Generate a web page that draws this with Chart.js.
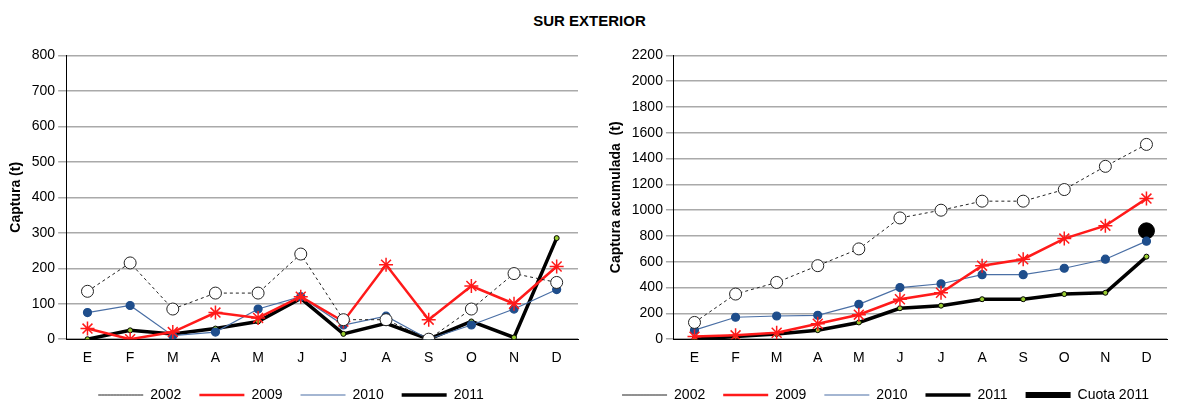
<!DOCTYPE html>
<html><head><meta charset="utf-8">
<script src="https://cdn.jsdelivr.net/npm/chart.js@4/dist/chart.umd.min.js"></script>
<style>
body{margin:0;background:#fff;font-family:Arial,"Liberation Sans",sans-serif;}
#title{position:absolute;left:0;width:1179px;top:12px;text-align:center;font-weight:bold;font-size:15px;}
#c1{position:absolute;left:0;top:44px;}
#c2{position:absolute;left:600px;top:44px;}
</style></head><body>
<div id="title">SUR EXTERIOR</div>
<canvas id="c1" width="590" height="368"></canvas>
<canvas id="c2" width="579" height="368"></canvas>
<script>
var meses = ['E','F','M','A','M','J','J','A','S','O','N','D'];
var cap2002 = [135,215,85,130,130,240,55,55,0,85,185,160];
var cap2009 = [30,0,20,75,60,120,50,210,55,150,100,205];
var cap2010 = [75,95,10,20,85,120,40,65,0,40,85,140];
var cap2011 = [0,25,15,30,50,115,15,45,0,50,5,285];
var acu2002 = [130,350,440,570,700,940,1000,1070,1070,1160,1340,1510];
var acu2009 = [20,30,50,120,190,310,360,570,620,780,880,1090];
var acu2010 = [70,170,180,185,270,400,430,500,500,550,620,760];
var acu2011 = [0,20,40,70,130,240,260,310,310,350,360,640];
var cuota2011 = [null,null,null,null,null,null,null,null,null,null,null,840];

function series(d02, d09, d10, d11) {
    return [
        { label: '2002', data: d02, borderColor: '#222', backgroundColor: '#fff', borderWidth: 1, borderDash: [3,3],
          pointStyle: 'circle', pointRadius: 6, pointBackgroundColor: '#fff', pointBorderColor: '#222', pointBorderWidth: 1 },
        { label: '2009', data: d09, borderColor: '#ff1a1a', backgroundColor: '#fff', borderWidth: 2.5,
          pointStyle: 'star', pointRadius: 7, pointBorderColor: '#ff1a1a', pointBorderWidth: 1.5 },
        { label: '2010', data: d10, borderColor: '#4a6fa5', backgroundColor: '#fff', borderWidth: 1.2,
          pointStyle: 'circle', pointRadius: 4, pointBackgroundColor: '#1f4e8c', pointBorderColor: '#1f4e8c' },
        { label: '2011', data: d11, borderColor: '#000', backgroundColor: '#fff', borderWidth: 3.5,
          pointStyle: 'circle', pointRadius: 2.5, pointBackgroundColor: '#9acd32', pointBorderColor: '#000', pointBorderWidth: 1 }
    ];
}

function opciones(max, step, titulo) {
    return {
        responsive: false, animation: false,
        layout: { padding: { left: 4, right: 12, top: 0, bottom: 0 } },
        plugins: {
            legend: { position: 'bottom', labels: { boxWidth: 45, boxHeight: 0, color: '#000',
                font: { size: 14 }, padding: 18 } },
            tooltip: { enabled: false }
        },
        scales: {
            x: { offset: true, grid: { display: false }, border: { color: '#000' },
                 ticks: { color: '#000', font: { size: 14 } } },
            y: { min: 0, max: max,
                 ticks: { stepSize: step, color: '#000', font: { size: 14 }, callback: function (v) { return String(v); } },
                 grid: { color: '#aaa', lineWidth: 1.5 }, border: { color: '#000' },
                 title: { display: true, text: titulo, color: '#000', font: { size: 14, weight: 'bold' } } }
        }
    };
}

new Chart(document.getElementById('c1'), {
    type: 'line',
    data: { labels: meses, datasets: series(cap2002, cap2009, cap2010, cap2011) },
    options: opciones(800, 100, 'Captura (t)')
});

var ds2 = series(acu2002, acu2009, acu2010, acu2011);
ds2.push({ label: 'Cuota 2011', data: cuota2011, showLine: false, pointStyle: 'circle', borderWidth: 6,
    borderColor: '#000', backgroundColor: '#000',
    pointRadius: 8, pointBackgroundColor: '#000', pointBorderColor: '#000', pointBorderWidth: 1 });
new Chart(document.getElementById('c2'), {
    type: 'line',
    data: { labels: meses, datasets: ds2 },
    options: opciones(2200, 200, 'Captura acumulada  (t)')
});
</script>
</body></html>
